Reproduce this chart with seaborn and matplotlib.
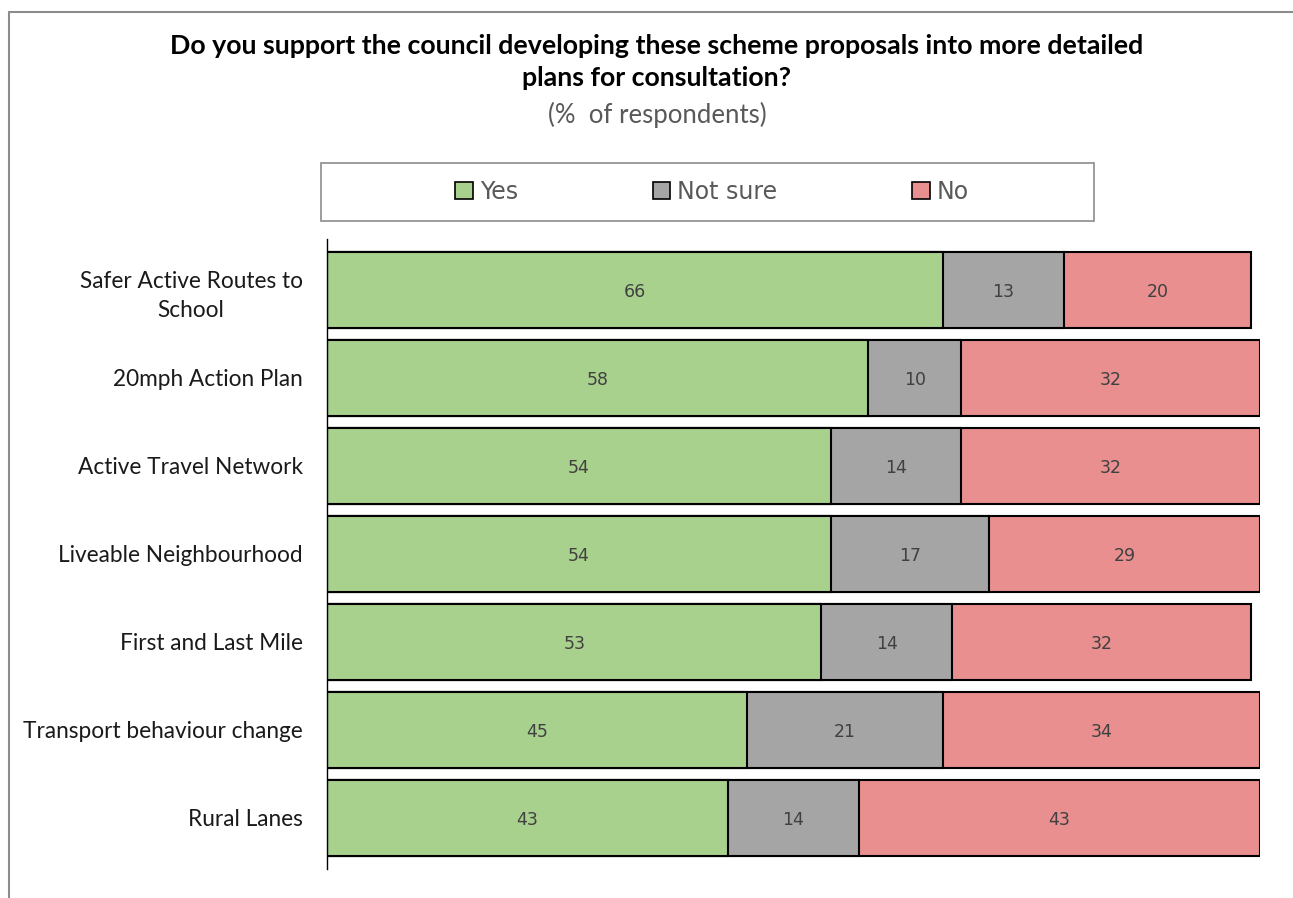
import numpy as np
import pandas as pd
import seaborn as sns
import matplotlib
matplotlib.use("Agg")
import matplotlib.pyplot as plt
from matplotlib.lines import Line2D
from matplotlib.patches import Rectangle, Patch

categories = ["Safer Active Routes to\nSchool", "20mph Action Plan", "Active Travel Network",
              "Liveable Neighbourhood", "First and Last Mile", "Transport behaviour change",
              "Rural Lanes"]
yes_vals = [66, 58, 54, 54, 53, 45, 43]
notsure_vals = [13, 10, 14, 17, 14, 21, 14]
no_vals = [20, 32, 32, 29, 32, 34, 43]
series_names = ["Yes", "Not sure", "No"]
colors = ["#A9D18E", "#A5A5A5", "#E98F8F"]

title = "Do you support the council developing these scheme proposals into more detailed\nplans for consultation?"
subtitle = "(%  of respondents)"

sns.set_style("white")
plt.rcParams['font.family'] = ['Lato', 'DejaVu Sans']

W, H = 1293, 898
fig = plt.figure(figsize=(W / 100, H / 100), dpi=100)
ax = fig.add_axes([327 / W, 1 - 862 / H, 933 / W, 616 / H])

df = pd.DataFrame({"cat": categories, "Yes": yes_vals, "Not sure": notsure_vals, "No": no_vals})
df["c1"] = df["Yes"]
df["c2"] = df["Yes"] + df["Not sure"]
df["c3"] = df["c2"] + df["No"]

for col, color in zip(["c3", "c2", "c1"], colors[::-1]):
    sns.barplot(data=df, y="cat", x=col, color=color, orient="h", width=0.864,
                edgecolor="black", linewidth=1.5, saturation=1, ax=ax)

# segment labels
for i, row in df.iterrows():
    starts = [0, row["c1"], row["c2"]]
    for s, v in zip(starts, [row["Yes"], row["Not sure"], row["No"]]):
        ax.text(s + v / 2, i + 0.02, f"{v}", ha="center", va="center", fontsize=12.5,
                color="#404040", family="DejaVu Sans")

ax.set_xlim(0, 100)
ax.set_ylim(len(categories) - 0.5, -0.5)
ax.set_xlabel("")
ax.set_ylabel("")
ax.set_xticks([])
ax.tick_params(axis="y", length=0, pad=17.5, labelsize=16.3, labelcolor="#1a1a1a")
for lab in ax.get_yticklabels():
    lab.set_multialignment("center")
    lab.set_linespacing(1.45)
    if "\n" in lab.get_text():
        lab.set_va("center_baseline")
for s in ["top", "right", "bottom"]:
    ax.spines[s].set_visible(False)
ax.spines["left"].set_color("black")
ax.spines["left"].set_linewidth(1.0)
ax.spines["left"].set_bounds(-0.58, len(categories) - 0.42)

# title & subtitle
fig.text(657 / W, 1 - 62 / H, title, ha="center", va="center", fontsize=19.3,
         fontweight="bold", color="black", linespacing=1.45)
fig.text(657 / W, 1 - 115 / H, subtitle, ha="center", va="center", fontsize=18.5,
         color="#595959")

# legend box
fig.add_artist(Rectangle((321 / W, 1 - 221 / H), 773 / W, 58 / H, transform=fig.transFigure,
                         facecolor="none", edgecolor="#8c8c8c", linewidth=1.2))
handles = [Patch(facecolor=c, edgecolor="black", linewidth=1.2) for c in colors]
fig.legend(handles, series_names, loc="center", bbox_to_anchor=(712 / W, 1 - 192 / H),
           ncol=3, frameon=False, handlelength=0.75, handleheight=0.75,
           handletextpad=0.3, columnspacing=5.7, labelcolor="#595959",
           prop={"family": "DejaVu Sans", "size": 17})

# outer frame lines
fig.add_artist(Line2D([9 / W, 9 / W], [0, 1 - 12 / H], transform=fig.transFigure,
                      color="#8c8c8c", linewidth=1.5))
fig.add_artist(Line2D([9 / W, 1], [1 - 12 / H, 1 - 12 / H], transform=fig.transFigure,
                      color="#8c8c8c", linewidth=1.5))

fig.savefig("out.png", dpi=100)
